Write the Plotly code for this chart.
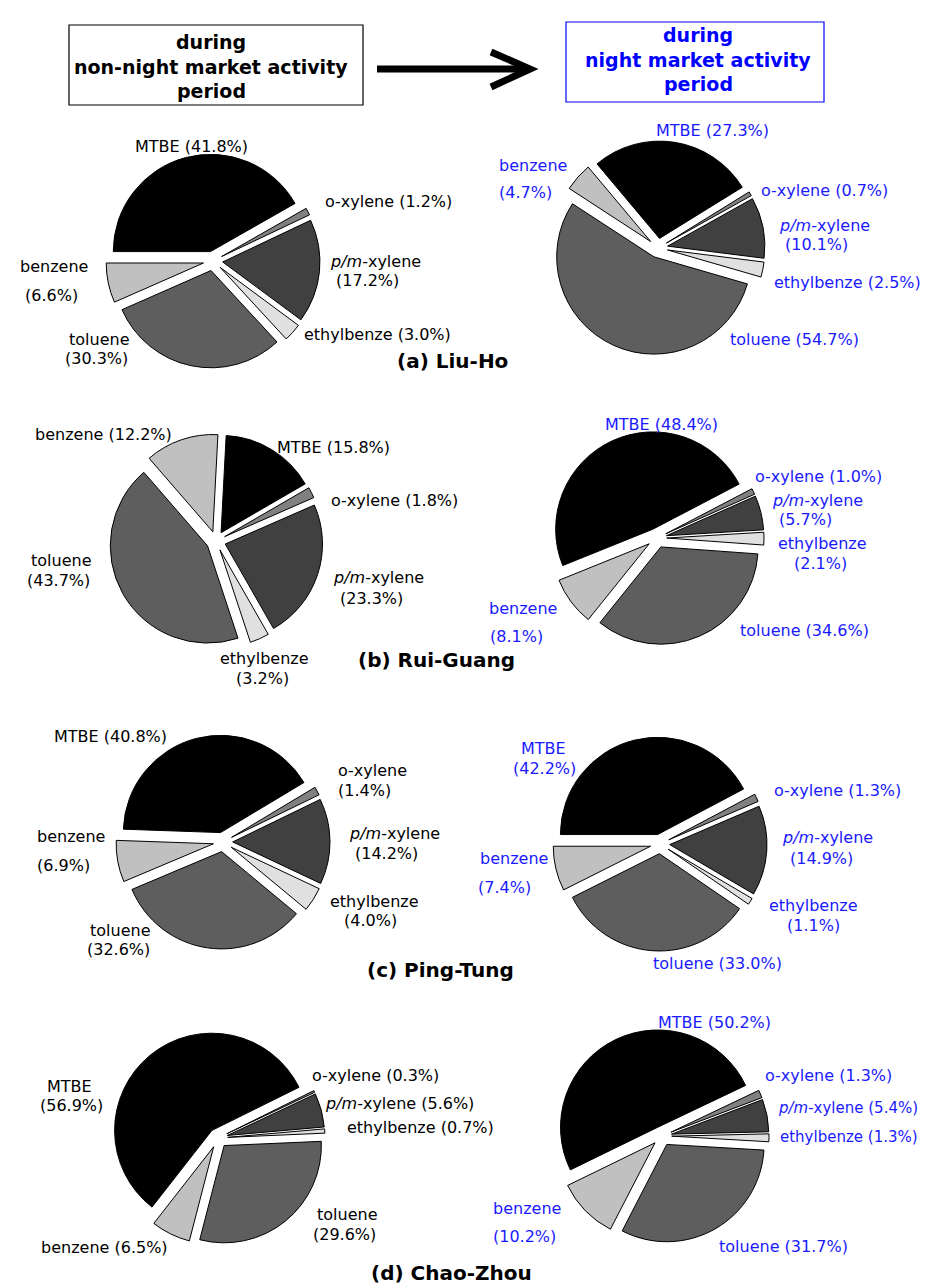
import plotly.graph_objects as go

W, H = 932, 1286

# ---------------- data ----------------
compounds = ["MTBE", "o-xylene", "p/m-xylene", "ethylbenze", "toluene", "benzene"]
site_titles = ["(a) Liu-Ho", "(b) Rui-Guang", "(c) Ping-Tung", "(d) Chao-Zhou"]

liuho_non = [41.8, 1.2, 17.2, 3.0, 30.3, 6.6]
liuho_night = [27.3, 0.7, 10.1, 2.5, 54.7, 4.7]
ruiguang_non = [15.8, 1.8, 23.3, 3.2, 43.7, 12.2]
ruiguang_night = [48.4, 1.0, 5.7, 2.1, 34.6, 8.1]
pingtung_non = [40.8, 1.4, 14.2, 4.0, 32.6, 6.9]
pingtung_night = [42.2, 1.3, 14.9, 1.1, 33.0, 7.4]
chaozhou_non = [56.9, 0.3, 5.6, 0.7, 29.6, 6.5]
chaozhou_night = [50.2, 1.3, 5.4, 1.3, 31.7, 10.2]

header_left = ["during", "non-night market activity", "period"]
header_right = ["during", "night market activity", "period"]

# ---------------- styles / layout ----------------
slice_colors = ["#000000", "#808080", "#404040", "#e0e0e0", "#5e5e5e", "#c0c0c0"]
BLUE = "#1a1aff"
FONT = "DejaVu Sans"

# pie placement: (values, center x px, center y px, rotation, text colour)
panels = [
    (liuho_non, 205, 253, -90, "black"),
    (liuho_night, 650, 240, -40, BLUE),
    (ruiguang_non, 208, 533, 3, "black"),
    (ruiguang_night, 649, 530, -112, BLUE),
    (pingtung_non, 215, 834, -88, "black"),
    (pingtung_night, 652, 836, -90, BLUE),
    (chaozhou_non, 210, 1130, -142, "black"),
    (chaozhou_night, 654, 1128, -116, BLUE),
]
HALF = 107
PULL = 0.1

# label placement: (compound index, part, x px, y px, x-anchor, font size)
label_pos = [
    [(0, "full", 183, 138, "center", 16), (1, "full", 380, 193, "center", 16),
     (2, "name", 367, 253, "center", 16), (2, "pct", 359, 273, "center", 16),
     (3, "full", 369, 327, "center", 16), (4, "name", 91, 331, "center", 16),
     (4, "pct", 88, 350, "center", 16), (5, "name", 46, 258, "center", 16),
     (5, "pct", 43, 287, "center", 16)],
    [(0, "full", 704, 123, "center", 16), (5, "name", 525, 157, "center", 16),
     (5, "pct", 517, 185, "center", 16), (1, "full", 816, 183, "center", 16),
     (2, "name", 816, 217, "center", 16), (2, "pct", 808, 237, "center", 16),
     (3, "full", 839, 274, "center", 16), (4, "full", 786, 332, "center", 16)],
    [(5, "full", 95, 426, "center", 16), (0, "full", 325, 439, "center", 16),
     (1, "full", 386, 492, "center", 16), (2, "name", 370, 570, "center", 16),
     (2, "pct", 363, 590, "center", 16), (4, "name", 53, 552, "center", 16),
     (4, "pct", 50, 572, "center", 16), (3, "name", 256, 650, "center", 16),
     (3, "pct", 254, 670, "center", 16)],
    [(0, "full", 653, 416, "center", 16), (1, "full", 810, 468, "center", 16),
     (2, "name", 809, 492, "center", 16), (2, "pct", 797, 511, "center", 16),
     (3, "name", 814, 535, "center", 16), (3, "pct", 812, 555, "center", 16),
     (5, "name", 515, 600, "center", 16), (5, "pct", 508, 628, "center", 16),
     (4, "full", 796, 622, "center", 16)],
    [(0, "full", 102, 728, "center", 16), (1, "name", 364, 762, "center", 16),
     (1, "pct", 356, 782, "center", 16), (2, "name", 386, 825, "center", 16),
     (2, "pct", 378, 845, "center", 16), (5, "name", 63, 828, "center", 16),
     (5, "pct", 55, 857, "center", 16), (3, "name", 366, 893, "center", 16),
     (3, "pct", 362, 912, "center", 16), (4, "name", 112, 923, "center", 16),
     (4, "pct", 110, 942, "center", 16)],
    [(0, "name", 535, 740, "center", 16), (0, "pct", 536, 760, "center", 16),
     (1, "full", 829, 782, "center", 16), (2, "name", 819, 830, "center", 16),
     (2, "pct", 813, 850, "center", 16), (5, "name", 506, 850, "center", 16),
     (5, "pct", 497, 880, "center", 16), (3, "name", 805, 897, "center", 16),
     (3, "pct", 805, 917, "center", 16), (4, "full", 709, 955, "center", 16)],
    [(0, "name", 61, 1078, "center", 16), (0, "pct", 63, 1097, "center", 16),
     (1, "full", 367, 1067, "center", 16), (2, "full", 391, 1095, "center", 16),
     (3, "full", 412, 1119, "center", 16), (4, "name", 339, 1206, "center", 16),
     (4, "pct", 336, 1226, "center", 16), (5, "full", 96, 1239, "center", 16)],
    [(0, "full", 706, 1014, "center", 16), (1, "full", 820, 1067, "center", 16),
     (2, "full", 912, 1100, "right", 15), (3, "full", 912, 1129, "right", 15),
     (5, "name", 519, 1200, "center", 16), (5, "pct", 516, 1228, "center", 16),
     (4, "full", 775, 1238, "center", 16)],
]
title_pos = [(444, 353), (428, 652), (432, 962), (443, 1265)]


def px(x):
    return x / W


def py(y):
    return 1 - y / H


def name_html(n):
    if n == "p/m-xylene":
        return "<i>p/m</i>-xylene"
    return n


fig = go.Figure()
annotations = []

for (vals, cx, cy, rot, col), labs in zip(panels, label_pos):
    fig.add_trace(go.Pie(
        labels=compounds,
        values=vals,
        sort=False,
        direction="clockwise",
        rotation=rot,
        pull=[PULL] * len(vals),
        marker=dict(colors=slice_colors, line=dict(color="black", width=1)),
        textinfo="none",
        hoverinfo="label+percent",
        showlegend=False,
        domain=dict(x=[px(cx - HALF), px(cx + HALF)], y=[py(cy + HALF), py(cy - HALF)]),
    ))
    for ci, part, x, y, anc, fs in labs:
        if part == "full":
            t = f"{name_html(compounds[ci])} ({vals[ci]:.1f}%)"
        elif part == "name":
            t = name_html(compounds[ci])
        else:
            t = f"({vals[ci]:.1f}%)"
        annotations.append(dict(
            x=px(x), y=py(y), xref="paper", yref="paper", text=t, showarrow=False,
            xanchor=anc, yanchor="middle",
            font=dict(family=FONT, size=fs, color=col),
        ))

for t, (x, y) in zip(site_titles, title_pos):
    annotations.append(dict(
        x=px(x), y=py(y), xref="paper", yref="paper", text=f"<b>{t}</b>", showarrow=False,
        xanchor="center", yanchor="middle",
        font=dict(family=FONT, size=20, color="black"),
    ))

for t, y in zip(header_left, [34, 59, 83]):
    annotations.append(dict(
        x=px(203), y=py(y), xref="paper", yref="paper", text=f"<b>{t}</b>", showarrow=False,
        xanchor="center", yanchor="middle",
        font=dict(family=FONT, size=19, color="black"),
    ))
for t, y in zip(header_right, [27, 52, 76]):
    annotations.append(dict(
        x=px(690), y=py(y), xref="paper", yref="paper", text=f"<b>{t}</b>", showarrow=False,
        xanchor="center", yanchor="middle",
        font=dict(family=FONT, size=19, color="#0000ff"),
    ))

shapes = [
    dict(type="rect", xref="paper", yref="paper", x0=px(61), x1=px(355), y0=py(97), y1=py(17),
         line=dict(color="black", width=1.2)),
    dict(type="rect", xref="paper", yref="paper", x0=px(558), x1=px(816), y0=py(94), y1=py(14),
         line=dict(color="#0000ff", width=1.2)),
    dict(type="line", xref="paper", yref="paper", x0=px(369), x1=px(519), y0=py(61), y1=py(61),
         line=dict(color="black", width=7)),
    dict(type="path", xref="paper", yref="paper",
         path=f"M {px(483)},{py(44)} L {px(522)},{py(61)} L {px(483)},{py(79)}",
         line=dict(color="black", width=7)),
]

fig.update_layout(
    width=W, height=H,
    margin=dict(l=0, r=0, t=0, b=0),
    paper_bgcolor="white", plot_bgcolor="white",
    annotations=annotations,
    shapes=shapes,
)

fig.write_html("out.html")
